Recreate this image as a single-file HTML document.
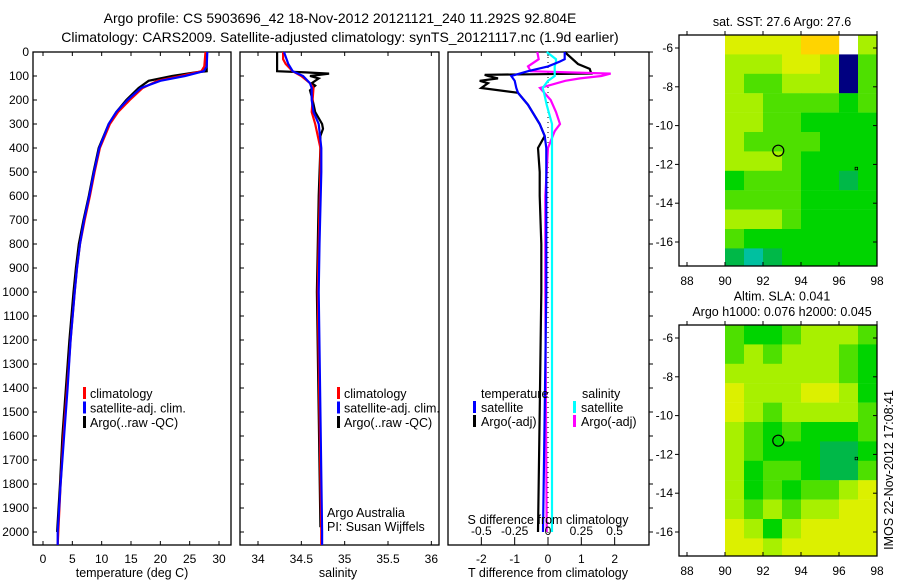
<!DOCTYPE html>
<html><head><meta charset="utf-8"><style>
body{margin:0;background:#fff}
svg{display:block;font-family:"Liberation Sans",sans-serif}
</style></head><body>
<svg id="c" width="900" height="580" xmlns="http://www.w3.org/2000/svg">
<rect width="900" height="580" fill="#fff"/>
<text x="340" y="23" font-size="14" text-anchor="middle">Argo profile: CS 5903696_42 18-Nov-2012 20121121_240 11.292S 92.804E</text>
<text x="340" y="42" font-size="14" text-anchor="middle">Climatology: CARS2009. Satellite-adjusted climatology: synTS_20121117.nc (1.9d earlier)</text>
</svg>
<script>
// ---------- data ----------
const tDepth=[0,60,80,100,120,150,200,250,300,400,500,600,700,800,900,1000,1200,1400,1600,1800,2000,2054];
const tClim=[27.7,27.5,27.0,23.5,19.5,17.0,14.8,12.8,11.4,9.7,8.8,8.0,7.1,6.3,5.8,5.4,4.7,4.1,3.5,3.0,2.6,2.5];
const tSat=[28.0,27.9,27.4,24.2,20.0,16.7,14.4,12.5,11.2,9.6,8.7,7.9,7.0,6.3,5.8,5.4,4.7,4.2,3.6,3.0,2.5,2.5];
const tArgoDepth=[0,80,85,100,120,150,200,250,300,400,500,600,700,800,900,1000,1200,1400,1600,1800,2000];
const tArgo=[27.9,27.9,26.0,22.0,18.0,16.3,14.2,12.5,11.2,9.5,8.6,7.8,6.9,6.1,5.6,5.2,4.5,3.9,3.3,2.9,2.4];
const sDepth=[0,30,50,80,100,130,150,200,250,300,400,500,800,1000,1500,2000,2054];
const sClim=[34.29,34.29,34.32,34.40,34.50,34.60,34.64,34.63,34.62,34.66,34.72,34.72,34.70,34.69,34.71,34.73,34.73];
const sSat=[34.30,34.33,34.35,34.40,34.52,34.60,34.62,34.62,34.64,34.70,34.73,34.73,34.71,34.70,34.72,34.74,34.74];
const sArgoDepth=[0,80,85,90,100,110,130,140,160,200,250,300,320,350,400,600,1000,1500,1980];
const sArgo=[34.22,34.22,34.55,34.82,34.60,34.70,34.62,34.66,34.60,34.63,34.66,34.74,34.75,34.72,34.72,34.70,34.68,34.70,34.72];
const dDepth=[0,30,40,60,80,100,120,150,170,220,300,350,400,500,600,800,1000,1500,2000];
const dTSat=[0.5,0.5,0.35,0.0,-0.6,-1.1,-1.0,-0.95,-0.9,-0.6,-0.25,-0.1,-0.05,-0.05,-0.05,-0.05,-0.05,-0.1,-0.15];
const dTArgoDepth=[0,50,70,90,95,100,110,120,130,150,170,220,300,350,400,500,600,800,1000,1500,2000];
const dTArgo=[0.5,0.9,1.25,1.3,-1.9,-1.8,-1.5,-2.05,-1.8,-2.0,-0.9,-0.6,-0.25,-0.1,-0.3,-0.25,-0.25,-0.2,-0.2,-0.25,-0.3];
const dSSat=[-0.01,0.06,0.06,0.05,0.05,0.05,0.0,-0.04,-0.03,-0.01,0.03,0.03,0.03,0.03,0.03,0.03,0.03,0.03,0.03];
const dSArgoDepth=[0,30,60,80,90,100,110,120,150,200,250,300,330,400,600,1000,2000];
const dSArgo=[-0.08,-0.07,-0.15,-0.13,0.47,0.40,0.24,0.13,-0.06,0.02,0.06,0.09,0.05,0.0,-0.02,-0.02,-0.01];
const depthTicks=[0,100,200,300,400,500,600,700,800,900,1000,1100,1200,1300,1400,1500,1600,1700,1800,1900,2000];
const tTicks=[0,5,10,15,20,25,30];
const sTicks=[34,34.5,35,35.5,36];
const dTTicks=[-2,-1,0,1,2];
const dSTicks=[-0.5,-0.25,0,0.25,0.5];
const dSTickLabels=["-0.5","-0.25","0","0.25","0.5"];
const mapLonTicks=[88,90,92,94,96,98];
const mapLatTicks=[-6,-8,-10,-12,-14,-16];
const sstGrid=["888899x7","77788706","76677706","77666656","77665555","76666555","77765555","56665545","66665555","77765555","65555555","43455555"];
const slaGrid=["65567776","67677765","77777765","87778875","87677776","76565556","76555445","75665446","75656678","76767788","87578888","88788888"];
const argoLon=92.804, argoLat=-11.292;
const otherLon=96.9, otherLat=-12.2;

// ---------- helpers ----------
const svg=document.getElementById('c');
const NS='http://www.w3.org/2000/svg';
function mk(tag,attrs,parent){const e=document.createElementNS(NS,tag);for(const k in attrs)e.setAttribute(k,attrs[k]);(parent||svg).appendChild(e);return e;}
const yD=d=>52+d*0.24;
function panel(x0,x1,name){
  const g=mk('g',{});
  
  
  mk('rect',{x:x0,y:52,width:x1-x0,height:493,fill:'none',stroke:'#000','stroke-width':1.3},g);
  return g;
}
function line(g,depths,vals,xf,color,name){
  const p=depths.map((d,i)=>xf(vals[i]).toFixed(1)+','+yD(d).toFixed(1)).join(' ');
  const e=mk('polyline',{points:p,fill:'none',stroke:color,'stroke-width':2.2},g);
  
  
}
function txt(g,x,y,s,anchor,size,name){
  const e=mk('text',{x:x,y:y,'font-size':size||12,'text-anchor':anchor||'start'},g);
  e.textContent=s;
  
  
  return e;
}
function legendMark(g,x,y,color){mk('rect',{x:x,y:y-11,width:3,height:12,fill:color},g);}

// ---------- panel 1: temperature ----------
const xT=v=>43+v*5.867;
const p1=panel(33,231,'temperature-panel');
depthTicks.forEach(d=>{mk('line',{x1:33,x2:37,y1:yD(d),y2:yD(d),stroke:'#000'},p1);txt(p1,29,yD(d)+4,String(d),'end',12,'depth-tick-label');});
tTicks.forEach(v=>{mk('line',{x1:xT(v),x2:xT(v),y1:545,y2:541,stroke:'#000'},p1);mk('line',{x1:xT(v),x2:xT(v),y1:52,y2:56,stroke:'#000'},p1);txt(p1,xT(v),563,String(v),'middle',12,'temperature-tick-label');});
txt(p1,132,577,'temperature (deg C)','middle',12.5,'x-axis-title-temperature');
line(p1,tArgoDepth,tArgo,xT,'#000','argo-temperature-line');
line(p1,tDepth,tClim,xT,'#f00','climatology-temperature-line');
line(p1,tDepth,tSat,xT,'#00f','satellite-temperature-line');
[['climatology','#f00'],['satellite-adj. clim.','#00f'],['Argo(..raw -QC)','#000']].forEach((l,i)=>{legendMark(p1,83,398+i*14.5,l[1]);txt(p1,90,398+i*14.5,l[0],'start',12.5,'legend-entry');});

// ---------- panel 2: salinity ----------
const xS=v=>258+(v-34)*86.67;
const p2=panel(240,439,'salinity-panel');
depthTicks.forEach(d=>{mk('line',{x1:240,x2:244,y1:yD(d),y2:yD(d),stroke:'#000'},p2);});
sTicks.forEach(v=>{mk('line',{x1:xS(v),x2:xS(v),y1:545,y2:541,stroke:'#000'},p2);mk('line',{x1:xS(v),x2:xS(v),y1:52,y2:56,stroke:'#000'},p2);txt(p2,xS(v),563,String(v),'middle',12,'salinity-tick-label');});
txt(p2,338,577,'salinity','middle',12.5,'x-axis-title-salinity');
line(p2,sArgoDepth,sArgo,xS,'#000','argo-salinity-line');
line(p2,sDepth,sClim,xS,'#f00','climatology-salinity-line');
line(p2,sDepth,sSat,xS,'#00f','satellite-salinity-line');
[['climatology','#f00'],['satellite-adj. clim.','#00f'],['Argo(..raw -QC)','#000']].forEach((l,i)=>{legendMark(p2,337,398+i*14.5,l[1]);txt(p2,344,398+i*14.5,l[0],'start',12.5,'legend-entry');});
txt(p2,327,517,'Argo Australia','start',12.5,'credit-argo-australia');
txt(p2,327,531,'PI: Susan Wijffels','start',12.5,'credit-pi');

// ---------- panel 3: differences ----------
const xdT=v=>548+v*33.33;
const xdS=v=>548+v*133.3;
const p3=panel(448,649,'difference-panel');
depthTicks.forEach(d=>{mk('line',{x1:649,x2:653,y1:yD(d),y2:yD(d),stroke:'#000'},p3);});
dTTicks.forEach(v=>{mk('line',{x1:xdT(v),x2:xdT(v),y1:545,y2:541,stroke:'#000'},p3);mk('line',{x1:xdT(v),x2:xdT(v),y1:52,y2:56,stroke:'#000'},p3);txt(p3,xdT(v),563,String(v),'middle',12,'t-difference-tick-label');});
txt(p3,548,577,'T difference from climatology','middle',12.5,'x-axis-title-t-difference');
mk('line',{x1:548,x2:548,y1:52,y2:545,stroke:'#000','stroke-dasharray':'1,4'},p3);
line(p3,dTArgoDepth,dTArgo,xdT,'#000','argo-t-difference-line');
line(p3,dSArgoDepth,dSArgo,xdS,'#f0f','argo-s-difference-line');
line(p3,dDepth,dSSat,xdS,'#0ff','satellite-s-difference-line');
line(p3,dDepth,dTSat,xdT,'#00f','satellite-t-difference-line');
dSTicks.forEach((v,i)=>{mk('line',{x1:xdS(v),x2:xdS(v),y1:541,y2:537,stroke:'#000'},p3);txt(p3,xdS(v),535,dSTickLabels[i],'middle',12,'s-difference-tick-label');});
txt(p3,548,524,'S difference from climatology','middle',12.5,'x-axis-title-s-difference');
txt(p3,481,398,'temperature','start',12.5,'legend-temperature-header');
txt(p3,582,398,'salinity','start',12.5,'legend-salinity-header');
legendMark(p3,473,412,'#00f');txt(p3,481,412,'satellite','start',12.5,'legend-entry');
legendMark(p3,473,426,'#000');txt(p3,481,426,'Argo(-adj)','start',12.5,'legend-entry');
legendMark(p3,573,412,'#0ff');txt(p3,581,412,'satellite','start',12.5,'legend-entry');
legendMark(p3,573,426,'#f0f');txt(p3,581,426,'Argo(-adj)','start',12.5,'legend-entry');

// ---------- maps ----------
const cmap=['#000080','#0050d0','#00a8c8','#00c0a0','#00b848','#00d400','#4ee000','#a8f000','#dcf000','#ffd400'];
function drawMap(top,grid,name,titles){
  const g=mk('g',{});
  
  
  const xL=lon=>687+(lon-88)*19;
  const yL=lat=>top+13+(-6-lat)*19.4;
  const latTop=-6+13/19.4;
  grid.forEach((row,r)=>{
    for(let c=0;c<row.length;c++){
      const ch=row[c]; if(ch==='x')continue;
      const la0=latTop-r, la1=la0-1;
      const y0=yL(la0), y1=Math.min(yL(la1),top+231);
      const cell=mk('rect',{x:xL(90+c),y:y0,width:19.2,height:y1-y0+0.2,fill:cmap[+ch]},g);
      
      
    }
  });
  mk('rect',{x:679,y:top,width:198,height:231,fill:'none',stroke:'#000','stroke-width':1.3},g);
  mapLonTicks.forEach(v=>{mk('line',{x1:xL(v),x2:xL(v),y1:top+231,y2:top+227,stroke:'#000'},g);mk('line',{x1:xL(v),x2:xL(v),y1:top,y2:top-4,stroke:'#000'},g);txt(g,xL(v),top+250,String(v),'middle',12,'longitude-tick-label');});
  mapLatTicks.forEach(v=>{mk('line',{x1:679,x2:675,y1:yL(v),y2:yL(v),stroke:'#000'},g);mk('line',{x1:877,x2:873,y1:yL(v),y2:yL(v),stroke:'#000'},g);txt(g,673,yL(v)+4,String(v),'end',12,'latitude-tick-label');});
  const m=mk('circle',{cx:xL(argoLon),cy:yL(argoLat),r:5.5,fill:'none',stroke:'#000','stroke-width':1.2},g);
  
  
  mk('rect',{x:xL(otherLon)-1,y:yL(otherLat)-1,width:2.5,height:2.5,fill:'none',stroke:'#000','stroke-width':0.8},g);
  const n=titles.length;
  titles.forEach((t,i)=>txt(g,782,top-9-(n-1-i)*15.5,t,'middle',12.5,'map-title'));
}
drawMap(35,sstGrid,'sst-map',['sat. SST: 27.6 Argo: 27.6']);
drawMap(325,slaGrid,'sla-map',['Altim. SLA: 0.041','Argo h1000: 0.076 h2000: 0.045']);
const st=txt(svg,0,0,'IMOS 22-Nov-2012 17:08:41','middle',12.5,'imos-timestamp');
st.setAttribute('transform','translate(893,470) rotate(-90)');
</script>
</body></html>
